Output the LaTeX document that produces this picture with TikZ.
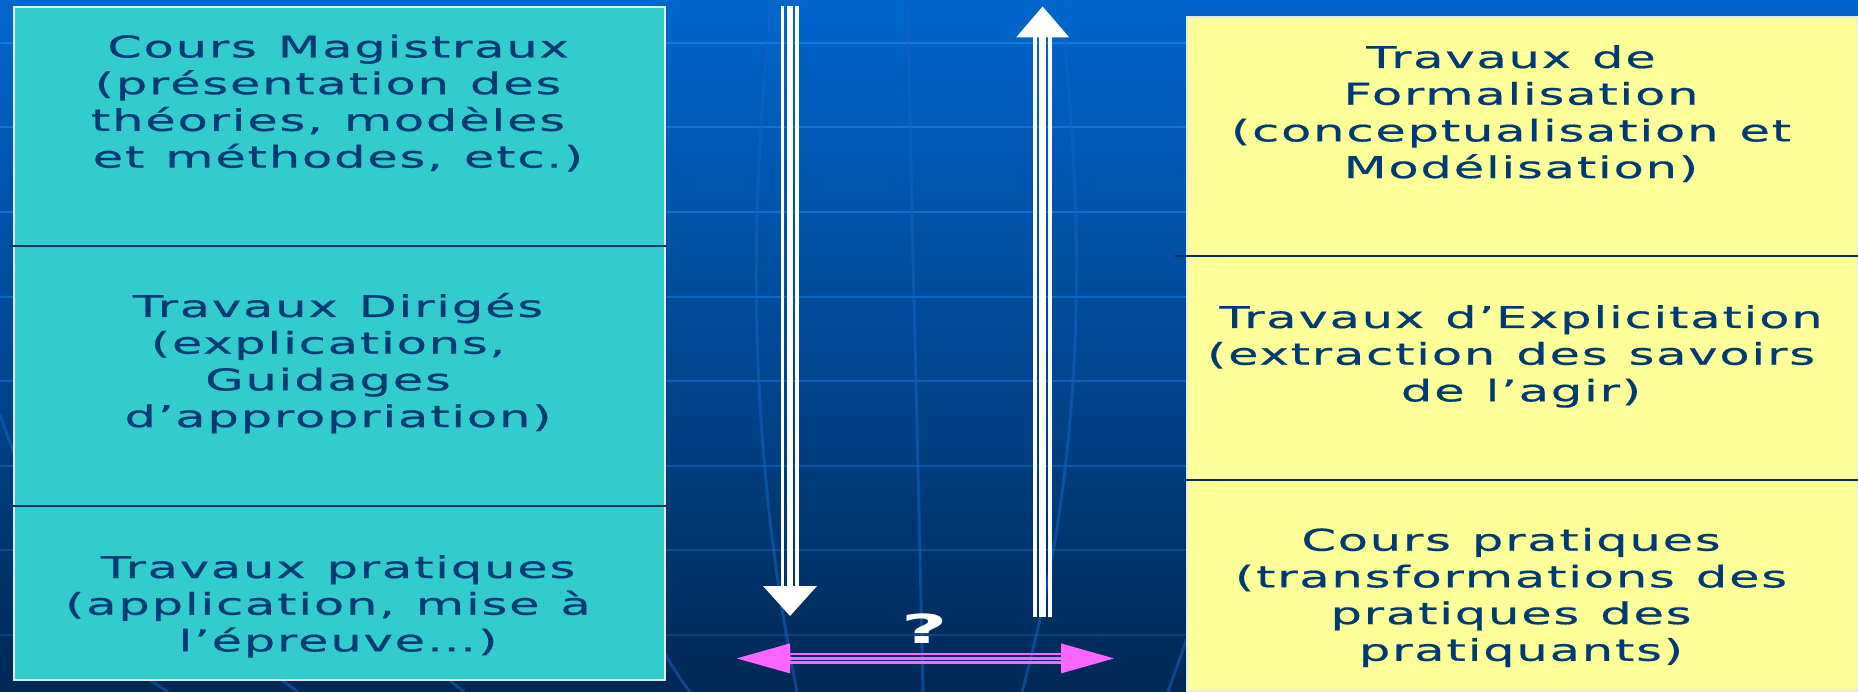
\documentclass[tikz,border=0pt]{standalone}
\usepackage{fontspec}
\newfontfamily\boxfont[FakeStretch=1.65,LetterSpace=6,FakeBold=0.6]{DejaVu Sans}
\newfontfamily\qfont[FakeStretch=2]{DejaVu Sans}
\newcommand\trsp{\kern20pt}
\newcommand\boxsel{\boxfont\fontsize{30}{36.7}\selectfont}
\newcommand\wsp{\spaceskip=21pt\relax}
\definecolor{bgtop}{RGB}{0,102,204}
\definecolor{bgmid}{RGB}{0,72,148}
\definecolor{bgbot}{RGB}{0,40,84}
\definecolor{gridln}{RGB}{30,130,235}
\definecolor{merid}{RGB}{20,100,195}
\definecolor{tealbox}{RGB}{51,204,204}
\definecolor{yelbox}{RGB}{255,255,153}
\definecolor{navytxt}{RGB}{0,58,115}
\definecolor{divln}{RGB}{0,51,102}
\definecolor{pinkarr}{RGB}{255,102,255}
\definecolor{boxedge}{RGB}{228,234,234}
\begin{document}
\begin{tikzpicture}[x=1pt,y=-1pt,
  gridline/.style={draw=gridln,line width=2pt,opacity=#1},
  meridian/.style={draw=merid,line width=3pt,opacity=0.55},
  boxsec/.style={draw=boxedge,line width=2pt,inner sep=0pt,anchor=north west},
  divline/.style={draw=divln,line width=2pt},
  boxtext/.style={font=\boxsel,text=navytxt,
    align=flush center,text width=#1,inner sep=0pt,anchor=base},
  stripe/.style={fill=white},
  pstripe/.style={fill=pinkarr}]
\useasboundingbox (0,0) rectangle (1858,692);
\clip (0,0) rectangle (1858,692);
% background
\shade[top color=bgtop,bottom color=bgbot,middle color=bgmid] (0,0) rectangle (1858,692);
\foreach \yy/\op in {43/0.7,127.5/0.65,212/0.6,297/0.55,381/0.45,466/0.35,550/0.3,635/0.25}
  \draw[gridline=\op] (0,\yy) -- (1858,\yy);
\draw[meridian] (772,0) .. controls (750,200) and (745,430) .. (797,692);
\draw[meridian] (908,0) .. controls (912,250) and (918,450) .. (923,692);
\draw[meridian] (1060,0) .. controls (1085,220) and (1088,450) .. (1022,692);
\draw[meridian] (600,0) .. controls (560,300) and (590,560) .. (690,692);
\draw[meridian] (0,415) -- (20,470);
\draw[meridian] (120,660) -- (168,692);
\draw[meridian] (255,660) -- (298,692);
\draw[meridian] (425,660) -- (464,692);
\draw[meridian] (1168,692) -- (1190,630);
% left box
\node[boxsec,fill=tealbox,minimum width=651,minimum height=672.5] (LB) at (13,6) {};
\draw[divline] (9,246) -- (666,246);
\draw[divline] (12,506) -- (666,506);
% right box
\node[boxsec,fill=yelbox,minimum width=670.5,minimum height=673.5] (RB) at (1186,16) {};
\draw[divline] (1175,256) -- (1858,256);
\draw[divline] (1186,480) -- (1858,480);
% texts
\node[boxtext=640] (t1) at (338,57.5) {\wsp Cours Magistraux\\(présentation des\trsp\\théories, modèles\trsp\\et méthodes, etc.)};
\node[boxtext=640] (t2) at (338,317) {\wsp Travaux Dirigés\\(explications,\trsp\\Guidages\trsp\\d’appropriation)};
\node[boxtext=640] (t3) at (338,578) {\wsp Travaux pratiques\\(application, mise à\trsp\\l’épreuve…)};
\node[boxtext=660] (t4) at (1521,68) {\wsp Travaux de\trsp\\Formalisation\\(conceptualisation et\trsp\\Modélisation)};
\node[boxtext=660] (t5) at (1521,328) {\wsp Travaux d’Explicitation\\(extraction des savoirs\trsp\\de l’agir)};
\node[boxtext=660] (t6) at (1521,550.7) {\wsp Cours pratiques\trsp\\(transformations des\trsp\\pratiques des\trsp\\pratiquants)};
% down arrow
\coordinate (dtop) at (790,6);
\coordinate (dtip) at (790,616);
\fill[stripe] (780.7,6) rectangle (784,587);
\fill[stripe] (786.7,6) rectangle (792.7,587);
\fill[stripe] (795,6) rectangle (798.7,587);
\fill[white] (763,586) -- (817,586) -- (dtip) -- cycle;
% up arrow
\coordinate (utip) at (1042.6,6.5);
\coordinate (ubot) at (1042.6,616.5);
\fill[stripe] (1033.3,37) rectangle (1036.7,616.5);
\fill[stripe] (1039.2,37) rectangle (1046,616.5);
\fill[stripe] (1048.3,37) rectangle (1051.7,616.5);
\fill[white] (1016,37.5) -- (1069.3,37.5) -- (utip) -- cycle;
% pink double arrow
\coordinate (pl) at (736.7,658.4);
\coordinate (pr) at (1114,658.4);
\fill[pstripe] (789,653) rectangle (1062,655.4);
\fill[pstripe] (789,656.8) rectangle (1062,660);
\fill[pstripe] (789,661.4) rectangle (1062,663.8);
\fill[pinkarr] (790,643.4) -- (pl) -- (790,673.4) -- cycle;
\fill[pinkarr] (1061,643.4) -- (pr) -- (1061,673.4) -- cycle;
\node[font=\qfont\bfseries\fontsize{40}{44}\selectfont,text=white,inner sep=0pt] (q) at (925,629) {?};
\end{tikzpicture}
\end{document}
